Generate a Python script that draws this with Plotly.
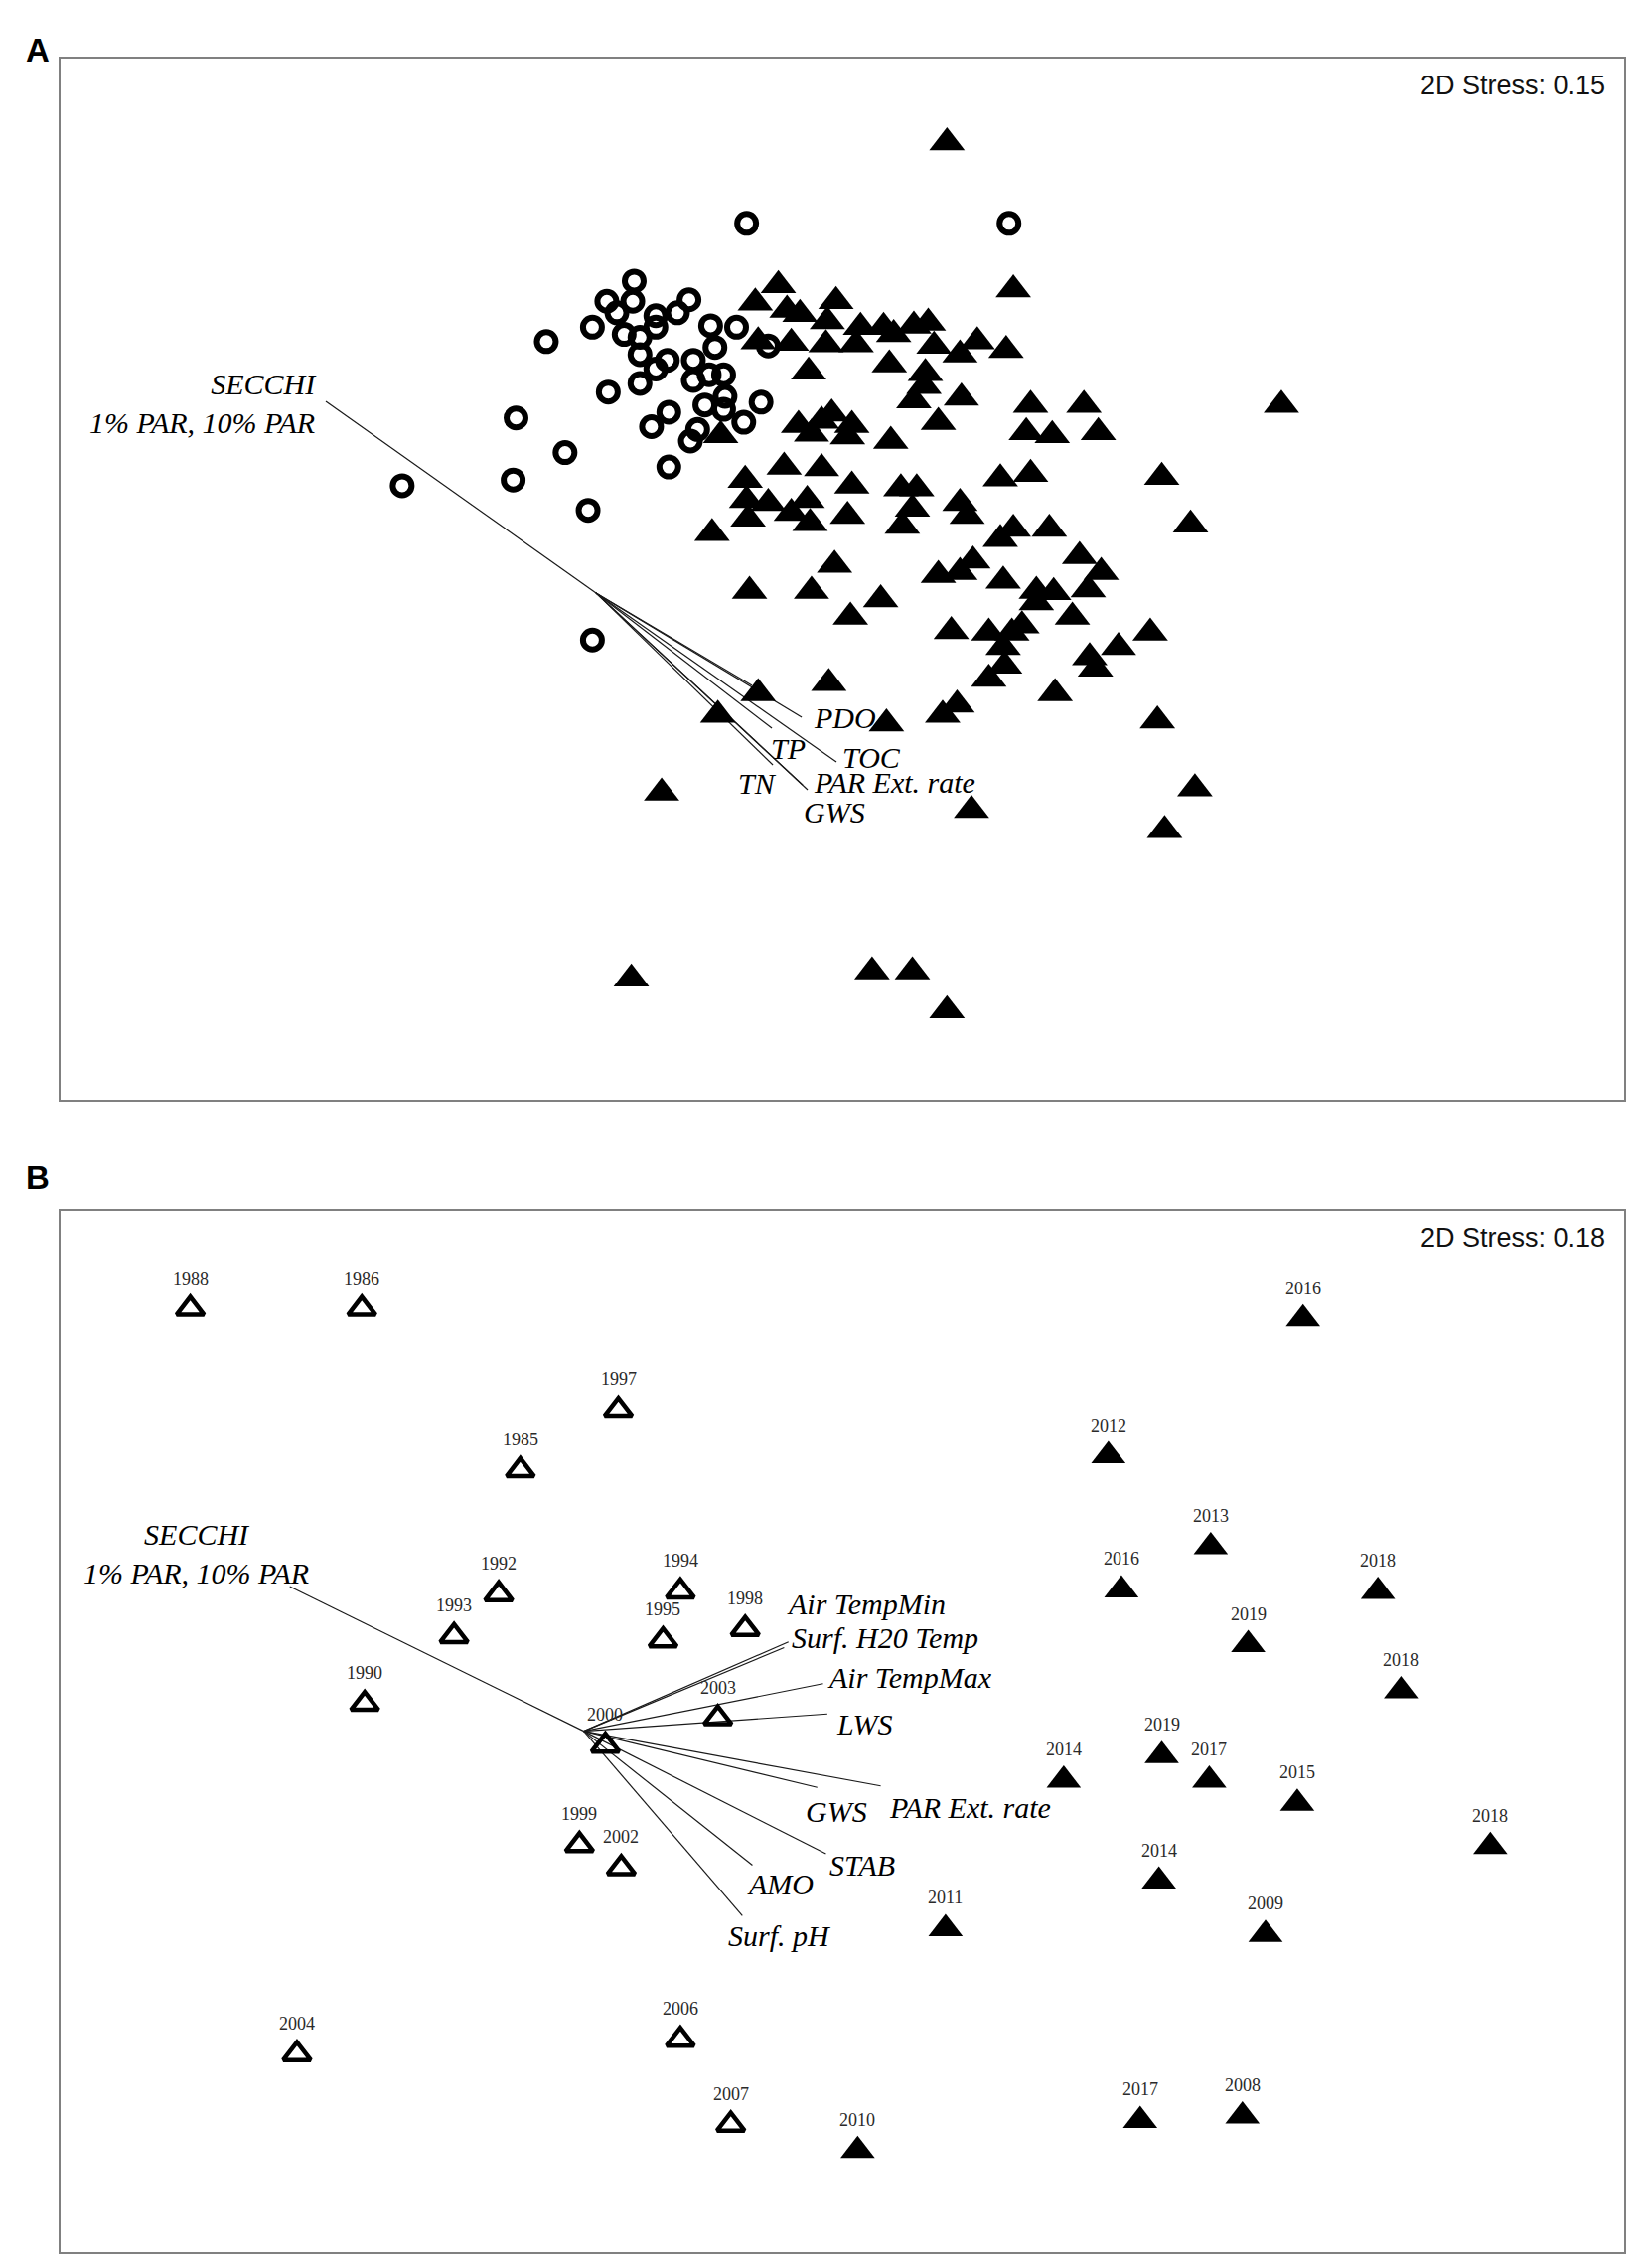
import plotly.graph_objects as go

# ---------------- Panel A : NMDS of samples (scores in plot units) ----------------
a_circle_x = [440, 421, 439, 428, 411, 379, 433, 455, 455, 444, 478, 470, 493, 511, 444,
              455, 463, 496, 481, 444, 422, 481, 492, 502, 503, 489, 502, 528, 464, 452,
              516, 484, 479, 533, 358, 392, 356, 464, 408, 518, 700, 279, 411]
a_circle_y = [195, 209, 209, 217, 227, 237, 232, 219, 227, 234, 208, 217, 226, 227, 246,
              256, 250, 241, 250, 266, 272, 264, 260, 260, 275, 281, 284, 279, 286, 296,
              293, 298, 306, 240, 290, 314, 333, 324, 354, 155, 155, 337, 444]

a_tri_x = [540, 524, 546, 555, 580, 574, 597, 613, 526, 549, 573, 594, 561, 617, 500,
           554, 570, 577, 591, 563, 588, 618, 544, 570, 591, 517, 533, 560, 518, 549,
           588, 519, 562, 494,
           703, 620, 634, 644, 648, 678, 666, 698, 642, 641, 634, 667, 651, 715, 752,
           712, 730, 762, 889, 694, 715, 806, 625, 636, 633, 666, 671, 626, 826, 703,
           728, 694,
           749, 764, 755, 675, 666, 651, 696, 611, 719, 731, 719, 744, 660, 686, 709,
           702, 696, 697, 686, 756, 760, 776, 798, 732, 664, 654, 615, 803,
           520, 563, 579, 590, 526, 498, 575, 459, 674,
           657, 829, 808, 438, 605, 633, 657]
a_tri_y = [198, 210, 215, 218, 209, 223, 227, 227, 237, 238, 239, 239, 258, 253, 302,
           295, 292, 287, 295, 301, 303, 306, 324, 325, 337, 333, 349, 347, 347, 356,
           358, 360, 363, 370,
           201, 232, 226, 224, 240, 237, 246, 243, 259, 268, 278, 276, 293, 281, 281,
           300, 302, 300, 281, 332, 329, 331, 339, 339, 353, 349, 358, 365, 364, 367,
           367, 374,
           386, 397, 409, 389, 397, 399, 403, 416, 410, 411, 418, 428, 438, 439, 434,
           439, 449, 462, 471, 456, 464, 449, 439, 481, 489, 496, 502, 500,
           410, 410, 392, 428, 481, 496, 474, 550, 562,
           99, 547, 576, 679, 674, 674, 701]

a_origin = (413.5, 411.4)
a_vec_x = [226.0, 521.7, 556.2, 535.5, 580.3, 536.2, 556.9, 560.3]
a_vec_y = [278.4, 475.5, 497.6, 505.2, 528.6, 530.7, 544.5, 547.9]

a_lab_text = ["PDO", "TP", "TOC", "PAR Ext. rate", "GWS", "TN"]
a_lab_x = [585.8, 546.5, 604.4, 620.3, 578.9, 525.2]
a_lab_y = [497.6, 519.0, 525.8, 542.4, 563.1, 543.1]

# ---------------- Panel B : NMDS of years ----------------
b_open_year = ["1988", "1986", "1997", "1985", "1992", "1994", "1998", "1993", "1995",
               "1990", "2003", "2000", "1999", "2002", "2004", "2006", "2007"]
b_open_x = [132, 251, 429, 361, 346, 472, 517, 315, 460, 253, 498, 420, 402, 431, 206, 472, 507]
b_open_y = [908, 908, 978, 1020, 1106, 1104, 1130, 1135, 1138, 1182, 1192, 1211, 1280, 1296,
            1425, 1415, 1474]

b_fill_year = ["2016", "2012", "2013", "2016", "2018", "2019", "2018", "2019", "2017",
               "2014", "2015", "2018", "2014", "2011", "2009", "2017", "2008", "2010"]
b_fill_x = [904, 769, 840, 778, 956, 866, 972, 806, 839, 738, 900, 1034, 804, 656, 878, 791, 862, 595]
b_fill_y = [915, 1010, 1073, 1103, 1104, 1141, 1173, 1218, 1235, 1235, 1251, 1281, 1305, 1338,
            1342, 1471, 1468, 1492]

b_origin = (405, 1201)
b_vec_x = [201, 547, 544, 571, 574, 611, 567, 573, 522, 515]
b_vec_y = [1100.6, 1139, 1143, 1168, 1189, 1239, 1240, 1286, 1294, 1329]

b_lab_text = ["Air TempMin", "Surf. H20 Temp", "Air TempMax", "LWS", "PAR Ext. rate",
              "GWS", "STAB", "AMO", "Surf. pH"]
b_lab_x = [601, 614, 631, 600, 673, 580, 598, 541, 541]
b_lab_y = [1113, 1136, 1164, 1196, 1254, 1257, 1294, 1307, 1343]

stress = ["2D Stress: 0.15", "2D Stress: 0.18"]

SERIF = "Liberation Serif"
SANS = "Liberation Sans"
LAB_SIZE = 30

fig = go.Figure()


def add_vectors(origin, vx, vy, xa, ya):
    xs, ys = [], []
    for x, y in zip(vx, vy):
        xs += [origin[0], x, None]
        ys += [origin[1], y, None]
    fig.add_trace(go.Scatter(x=xs, y=ys, mode="lines", xaxis=xa, yaxis=ya,
                             line=dict(color="#1a1a1a", width=1.2), hoverinfo="skip"))


# panel A
add_vectors(a_origin, a_vec_x, a_vec_y, "x", "y")
fig.add_trace(go.Scatter(x=a_circle_x, y=a_circle_y, mode="markers", xaxis="x", yaxis="y",
                         marker=dict(symbol="circle-open", size=19, color="black",
                                     line=dict(width=6, color="black"))))
fig.add_trace(go.Scatter(x=a_tri_x, y=a_tri_y, mode="markers", xaxis="x", yaxis="y",
                         marker=dict(symbol="triangle-up", size=31, color="black",
                                     line=dict(width=0))))

# panel B
add_vectors(b_origin, b_vec_x, b_vec_y, "x2", "y2")
fig.add_trace(go.Scatter(x=b_open_x, y=b_open_y, mode="markers", xaxis="x2", yaxis="y2",
                         marker=dict(symbol="triangle-up-open", size=24, color="black",
                                     line=dict(width=4.5, color="black"))))
fig.add_trace(go.Scatter(x=b_fill_x, y=b_fill_y, mode="markers", xaxis="x2", yaxis="y2",
                         marker=dict(symbol="triangle-up", size=30, color="black",
                                     line=dict(width=0))))

ann = []
for t, x, y in zip(a_lab_text, a_lab_x, a_lab_y):
    ann.append(dict(x=x, y=y, xref="x", yref="y", text="<i>%s</i>" % t, showarrow=False,
                    font=dict(family=SERIF, size=LAB_SIZE, color="black")))
ann.append(dict(x=221, y=280, xref="x", yref="y", text="<i>SECCHI<br>1% PAR, 10% PAR</i>",
                showarrow=False, xanchor="right", align="right",
                font=dict(family=SERIF, size=LAB_SIZE, color="black")))

for t, x, y in zip(b_lab_text, b_lab_x, b_lab_y):
    ann.append(dict(x=x, y=y, xref="x2", yref="y2", text="<i>%s</i>" % t, showarrow=False,
                    font=dict(family=SERIF, size=LAB_SIZE, color="black")))
ann.append(dict(x=136, y=1078, xref="x2", yref="y2", text="<i>SECCHI<br>1% PAR, 10% PAR</i>",
                showarrow=False, align="center",
                font=dict(family=SERIF, size=LAB_SIZE, color="black")))

for t, x, y in zip(b_open_year + b_fill_year, b_open_x + b_fill_x, b_open_y + b_fill_y):
    ann.append(dict(x=x, y=y, xref="x2", yref="y2", text=t, showarrow=False, yshift=31,
                    font=dict(family=SERIF, size=18, color="#2a2a2a")))

for s, yr in zip(stress, ["y domain", "y2 domain"]):
    ann.append(dict(x=0.9892, y=0.9742, xref=yr.replace("y", "x", 1), yref=yr, text=s,
                    showarrow=False, xanchor="right", yanchor="middle",
                    font=dict(family=SANS, size=27, color="#111")))

ann.append(dict(x=0.01421, y=0.98686, xref="paper", yref="paper", text="<b>A</b>",
                showarrow=False, font=dict(family=SANS, size=33, color="black")))
ann.append(dict(x=0.01451, y=0.48051, xref="paper", yref="paper", text="<b>B</b>",
                showarrow=False, font=dict(family=SANS, size=33, color="black")))

frame = dict(showline=True, mirror=True, linecolor="#808080", linewidth=2,
             showticklabels=False, ticks="", showgrid=False, zeroline=False)

fig.update_layout(
    width=1654, height=2283,
    margin=dict(l=0, r=0, t=0, b=0),
    paper_bgcolor="white", plot_bgcolor="white",
    showlegend=False,
    xaxis=dict(domain=[0.03688, 0.98851], range=[42.0, 1126.8], **frame),
    yaxis=dict(domain=[0.51511, 0.97416], range=[762.9, 40.7], **frame),
    xaxis2=dict(domain=[0.03688, 0.98851], range=[42.0, 1126.8], anchor="y2", **frame),
    yaxis2=dict(domain=[0.00701, 0.46605], range=[1562.4, 840.1], anchor="x2", **frame),
    annotations=ann,
)

# page body margin would shift the figure by 8px
fig.write_html("out.html", config={"displayModeBar": False},
               post_script="document.body.style.margin='0';document.body.style.overflow='hidden';")
